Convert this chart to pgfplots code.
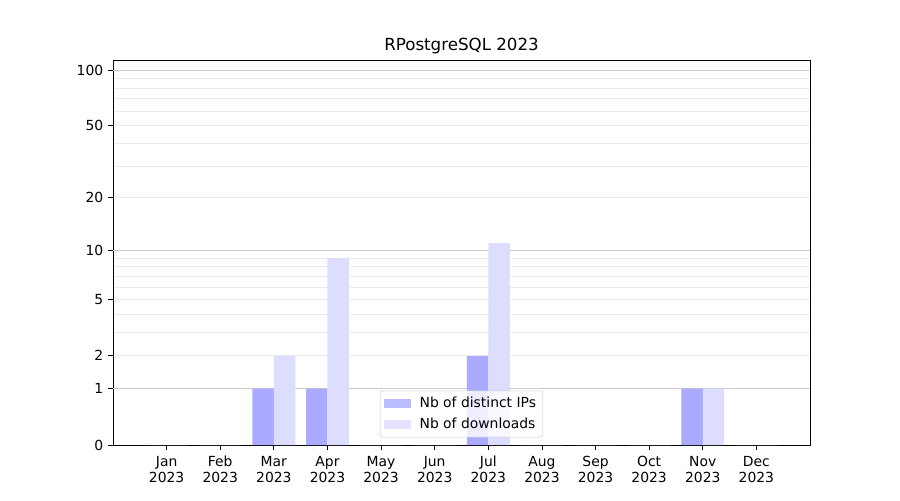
\documentclass[border=0pt]{standalone}
\usepackage{fontspec}
\setmainfont{DejaVu Sans}
\usepackage{pgfplots}
\pgfplotsset{compat=1.18}
\definecolor{ipc}{RGB}{170,170,255}
\definecolor{dlc}{RGB}{221,221,255}
\definecolor{gmaj}{RGB}{204,204,204}
\definecolor{gmin}{RGB}{236,236,236}
\begin{document}
\begin{tikzpicture}
\begin{axis}[
  scale only axis,
  width=501.84pt, height=277.2pt,
  xmin=-1, xmax=12,
  ymin=0, ymax=113.5,
  y coord trafo/.code={\pgfmathparse{ln(#1+1)/ln(10)}},
  y coord inv trafo/.code={\pgfmathparse{10^#1-1}},
  xtick={0,...,11},
  xticklabels={Jan\\2023,Feb\\2023,Mar\\2023,Apr\\2023,May\\2023,Jun\\2023,Jul\\2023,Aug\\2023,Sep\\2023,Oct\\2023,Nov\\2023,Dec\\2023},
  x tick label style={align=center, font=\fontsize{10pt}{11.5pt}\selectfont, yshift=-1pt},
  ytick={0,1,2,5,10,20,50,100},
  yticklabels={0,1,2,5,10,20,50,100},
  y tick label style={font=\fontsize{10pt}{12pt}\selectfont},
  minor ytick={3,4,6,7,8,9,30,40,60,70,80,90},
  ymajorgrids, yminorgrids,
  major grid style={gmin, line width=0.6pt},
  minor grid style={gmin, line width=0.6pt},
  extra y ticks={1,10,100},
  extra y tick labels={},
  extra y tick style={grid=major, major grid style={gmaj, line width=0.6pt}, major tick length=0pt},
  tick align=outside,
  major tick length=3.5pt,
  minor tick length=0pt,
  xtick pos=bottom, ytick pos=left,
  axis line style={line width=0.6pt},
  tick style={black, line width=0.6pt},
  /pgf/number format/assume math mode=true,
  title={RPostgreSQL 2023},
  title style={font=\fontsize{12pt}{14pt}\selectfont, yshift=-5.5pt},
  legend style={at={(0.5,0.02)}, anchor=south, fill=white, fill opacity=0.8, text opacity=1, draw=gmaj, rounded corners=2pt, font=\fontsize{10pt}{12pt}\selectfont, row sep=2pt, inner xsep=3pt, inner ysep=2.5pt},
  legend cell align=left,
  legend image code/.code={\fill[#1, sharp corners] (0pt,-3.2pt) rectangle (19.5pt,3.2pt); \path (23.5pt,0pt);},
]
\addplot[ybar, bar width=0.4, bar shift=-0.2, fill=ipc, draw=none] coordinates {
(0,0) (1,0) (2,1) (3,1) (4,0) (5,0) (6,2) (7,0) (8,0) (9,0) (10,1) (11,0)};
\addlegendentry{Nb of distinct IPs}
\addplot[ybar, bar width=0.4, bar shift=0.2, fill=dlc, draw=none] coordinates {
(0,0) (1,0) (2,2) (3,9) (4,0) (5,0) (6,11) (7,0) (8,0) (9,0) (10,1) (11,0)};
\addlegendentry{Nb of downloads}
\end{axis}
\path (current axis.south west) ++(-81.36pt,-39.6pt) rectangle ++(648pt,360pt);
\end{tikzpicture}
\end{document}
